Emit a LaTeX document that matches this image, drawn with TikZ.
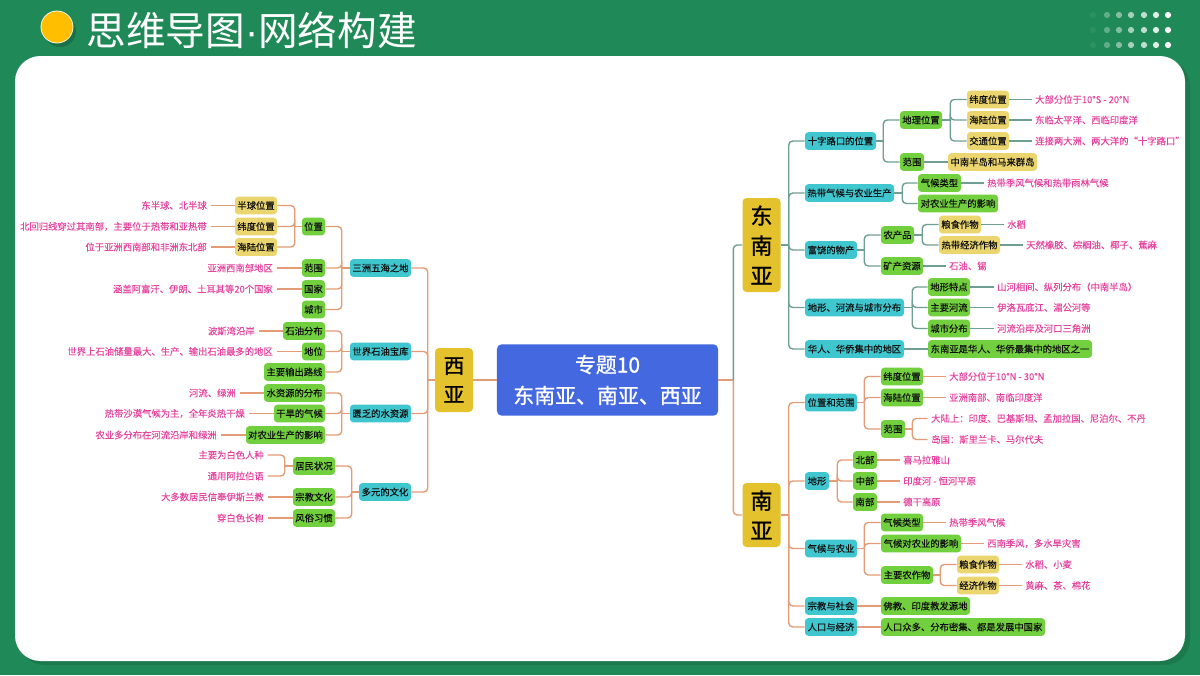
\documentclass[tikz,border=0pt]{standalone}
\usepackage{fontspec}
\setmainfont{Noto Sans CJK SC}
\newfontfamily\nodefont[FakeBold=0.22]{Noto Sans CJK SC}
\newfontfamily\pinkfont[FakeBold=0.08]{Noto Sans CJK SC}
\newfontfamily\headfont[FakeBold=1.0]{Noto Sans CJK SC}
\newfontfamily\dotfont{Liberation Sans}
\usetikzlibrary{shadows}
\definecolor{bgG}{HTML}{1F8A57}
\definecolor{tealC}{HTML}{3FC6CF}
\definecolor{grnC}{HTML}{72D03E}
\definecolor{ylwC}{HTML}{EBD56F}
\definecolor{bigY}{HTML}{E3C22E}
\definecolor{bluC}{HTML}{4468E0}
\definecolor{pnk}{HTML}{E6449E}
\definecolor{orgL}{HTML}{E39C76}
\definecolor{gryL}{HTML}{6F9F92}
\definecolor{inkC}{HTML}{101010}
\tikzset{
  basebox/.style={rounded corners=2.4pt,inner sep=0pt,minimum height=13.2pt,font=\nodefont\fontsize{7.0}{8}\selectfont,text=inkC,align=center},
  tealbox/.style={basebox,fill=tealC},
  grnbox/.style={basebox,fill=grnC},
  ylwbox/.style={basebox,fill=ylwC},
  bigbox/.style={rounded corners=3pt,fill=bigY,inner sep=0pt,text=black,align=center},
  pktext/.style={inner ysep=0pt,inner xsep=2.6pt,font=\pinkfont\fontsize{7.0}{8}\selectfont,text=pnk},
  orgline/.style={draw=orgL,line width=1.05pt},
  gryline/.style={draw=gryL,line width=1.05pt}
}
\newcommand\bx[6]{\node[#2,minimum width={(#4-#3)*0.75pt}] (#1) at ({(#3+#4)/2},#5) {#6};}
\newcommand\pkl[4]{\node[pktext,anchor=east] (#1) at (#2+3.5,#3) {#4};}
\newcommand\pkr[4]{\node[pktext,anchor=west] (#1) at (#2-3.5,#3) {#4};}
% right-going tree: style, parent, stub, children
\newcommand\rtree[4]{\draw[#1] (#2.east) -- ++(#3,0) coordinate (tk);
  \foreach \kid in {#4}{\draw[#1,rounded corners=3pt] (tk) |- (\kid.west);}}
\newcommand\ltree[4]{\draw[#1] (#2.west) -- ++(-#3,0) coordinate (tk);
  \foreach \kid in {#4}{\draw[#1,rounded corners=3pt] (tk) |- (\kid.east);}}
\newcommand\lnk[3]{\draw[#1] (#2) -- (#3);}
\begin{document}
\begin{tikzpicture}[x=0.75pt,y=-0.75pt]
\useasboundingbox (0,0) rectangle (1200,675);
\fill[bgG] (0,0) rectangle (1200,675);
\fill[black,opacity=.12] (19,60) [rounded corners=19pt] rectangle (1190,665);
\fill[white,rounded corners=19pt] (15,56) rectangle (1185,661);
% header
\fill[black,opacity=.18] (60,31) circle (16);
\node[circle,fill=white,minimum size=24.6pt,inner sep=0pt] (dotW) at (57,27) {};
\node[circle,fill=orange!50!yellow,minimum size=23.4pt,inner sep=0pt] (dotO) at (57,27) {};
\node[anchor=west,inner sep=0pt,text=white,font=\fontsize{29.7}{34}\selectfont] (title) at (86.5,30) {思维导图{\dotfont ·}网络构建};
\foreach \yy in {15,30,45}{
  \foreach \xx/\op in {1093/.06,1107/.3,1119/.45,1131/.6,1144/.72,1156/.86,1168/1}{
    \fill[white,opacity=\op] (\xx,\yy) circle (3.1);
  }
}
% centre
\node[fill=bluC,rounded corners=3.5pt,inner sep=0pt,minimum width=165.8pt,minimum height=53.6pt,text=white,align=center,font=\headfont\fontsize{15.7}{23.2}\selectfont] (ctr) at (607.5,380) {专题10\\东南亚、南亚、西亚};
\node[bigbox,minimum width=28.5pt,minimum height=48pt,font=\headfont\fontsize{15.5}{21.7}\selectfont] (xy) at (454,380) {西\\亚};
\node[bigbox,minimum width=28.5pt,minimum height=70.5pt,font=\headfont\fontsize{16.5}{22.5}\selectfont] (dny) at (761.5,245) {东\\南\\亚};
\node[bigbox,minimum width=28.5pt,minimum height=48pt,font=\headfont\fontsize{16.5}{22.5}\selectfont] (ny) at (761.5,515) {南\\亚};
% ===== West Asia
\bx{w1}{tealbox}{350}{411}{268}{三洲五海之地}
\bx{w2}{tealbox}{350}{411}{351.5}{世界石油宝库}
\bx{w3}{tealbox}{350}{411}{413.5}{匮乏的水资源}
\bx{w4}{tealbox}{359}{411}{492}{多元的文化}
\bx{wa}{grnbox}{302}{325}{226.5}{位置}
\bx{wb}{grnbox}{302}{325}{268}{范围}
\bx{wc}{grnbox}{302}{325}{289}{国家}
\bx{wd}{grnbox}{302}{325}{309.5}{城市}
\bx{waa}{ylwbox}{235}{277}{205.5}{半球位置}
\bx{wab}{ylwbox}{235}{277}{226.5}{纬度位置}
\bx{wac}{ylwbox}{235}{277}{247}{海陆位置}
\bx{we}{grnbox}{283}{325}{331}{石油分布}
\bx{wf}{grnbox}{302}{325}{351.5}{地位}
\bx{wg}{grnbox}{264}{325}{372}{主要输出路线}
\bx{wh}{grnbox}{264}{325}{393}{水资源的分布}
\bx{wi}{grnbox}{274}{325}{413.5}{干旱的气候}
\bx{wj}{grnbox}{246}{325}{435}{对农业生产的影响}
\bx{wk}{grnbox}{293}{335}{466}{居民状况}
\bx{wl}{grnbox}{293}{335}{497}{宗教文化}
\bx{wm}{grnbox}{293}{335}{518}{风俗习惯}
\pkl{t1}{207}{205.5}{东半球、北半球}
\pkl{t2}{207}{226.5}{北回归线穿过其南部，主要位于热带和亚热带}
\pkl{t3}{207}{247}{位于亚洲西南部和非洲东北部}
\pkl{t4}{273}{268}{亚洲西南部地区}
\pkl{t5}{273}{289}{涵盖阿富汗、伊朗、土耳其等20个国家}
\pkl{t6}{255}{331}{波斯湾沿岸}
\pkl{t7}{273}{351.5}{世界上石油储量最大、生产、输出石油最多的地区}
\pkl{t8}{236}{393}{河流、绿洲}
\pkl{t9}{245}{413.5}{热带沙漠气候为主，全年炎热干燥}
\pkl{t10}{217}{435}{农业多分布在河流沿岸和绿洲}
\pkl{t11}{264}{455}{主要为白色人种}
\pkl{t12}{264}{476}{通用阿拉伯语}
\pkl{t13}{264}{497}{大多数居民信奉伊斯兰教}
\pkl{t14}{264}{518}{穿白色长袍}
\ltree{orgline}{xy}{7}{w1,w2,w3,w4}
\ltree{orgline}{w1}{8}{wa,wb,wc,wd}
\ltree{orgline}{wa}{7}{waa,wab,wac}
\ltree{orgline}{w2}{8}{we,wf,wg}
\ltree{orgline}{w3}{8}{wh,wi,wj}
\ltree{orgline}{w4}{7}{wk,wl,wm}
\ltree{orgline}{wk}{8}{t11,t12}
\lnk{orgline}{waa.west}{t1.east}
\lnk{orgline}{wab.west}{t2.east}
\lnk{orgline}{wac.west}{t3.east}
\lnk{orgline}{wb.west}{t4.east}
\lnk{orgline}{wc.west}{t5.east}
\lnk{orgline}{we.west}{t6.east}
\lnk{orgline}{wf.west}{t7.east}
\lnk{orgline}{wh.west}{t8.east}
\lnk{orgline}{wi.west}{t9.east}
\lnk{orgline}{wj.west}{t10.east}
\lnk{orgline}{wl.west}{t13.east}
\lnk{orgline}{wm.west}{t14.east}
\lnk{orgline}{ctr.west}{xy.east}
% ===== Southeast Asia
\bx{e1}{tealbox}{805}{876}{141}{十字路口的位置}
\bx{e2}{tealbox}{805}{894}{193}{热带气候与农业生产}
\bx{e3}{tealbox}{805}{857}{250}{富饶的物产}
\bx{e4}{tealbox}{805}{904}{307.5}{地形、河流与城市分布}
\bx{e5}{tealbox}{805}{904}{349}{华人、华侨集中的地区}
\bx{ea}{grnbox}{900}{942}{120}{地理位置}
\bx{eb}{grnbox}{900}{924}{162}{范围}
\bx{eaa}{ylwbox}{967}{1009}{99.5}{纬度位置}
\bx{eab}{ylwbox}{967}{1009}{120}{海陆位置}
\bx{eac}{ylwbox}{967}{1009}{141}{交通位置}
\bx{eba}{ylwbox}{948}{1037}{162}{中南半岛和马来群岛}
\bx{ec}{grnbox}{918}{961}{183}{气候类型}
\bx{ed}{grnbox}{918}{998}{203.5}{对农业生产的影响}
\bx{ee}{grnbox}{881}{914}{235}{农产品}
\bx{ef}{grnbox}{881}{923}{266}{矿产资源}
\bx{eea}{ylwbox}{939}{981}{224.5}{粮食作物}
\bx{eeb}{ylwbox}{939}{1000}{245}{热带经济作物}
\bx{eg}{grnbox}{928}{970}{287}{地形特点}
\bx{eh}{grnbox}{928}{970}{307.5}{主要河流}
\bx{ei}{grnbox}{928}{970}{328.5}{城市分布}
\bx{ej}{grnbox}{928}{1092}{349}{东南亚是华人、华侨最集中的地区之一}
\pkr{u1}{1035}{99.5}{大部分位于10°S - 20°N}
\pkr{u2}{1035}{120}{东临太平洋、西临印度洋}
\pkr{u3}{1035}{141}{连接两大洲、两大洋的“十字路口”}
\pkr{u4}{987}{183}{热带季风气候和热带雨林气候}
\pkr{u5}{1007}{224.5}{水稻}
\pkr{u6}{1026}{245}{天然橡胶、棕榈油、椰子、蕉麻}
\pkr{u7}{949}{266}{石油、锡}
\pkr{u8}{997}{287}{山河相间、纵列分布（中南半岛）}
\pkr{u9}{997}{307.5}{伊洛瓦底江、湄公河等}
\pkr{u10}{997}{328.5}{河流沿岸及河口三角洲}
\rtree{gryline}{dny}{8}{e1,e2,e3,e4,e5}
\rtree{gryline}{e1}{7}{ea,eb}
\rtree{gryline}{ea}{8}{eaa,eab,eac}
\rtree{gryline}{e2}{8}{ec,ed}
\rtree{gryline}{e3}{7}{ee,ef}
\rtree{gryline}{ee}{8}{eea,eeb}
\rtree{gryline}{e4}{8}{eg,eh,ei}
\lnk{gryline}{eb.east}{eba.west}
\lnk{gryline}{e5.east}{ej.west}
\lnk{gryline}{eaa.east}{u1.west}
\lnk{gryline}{eab.east}{u2.west}
\lnk{gryline}{eac.east}{u3.west}
\lnk{gryline}{ec.east}{u4.west}
\lnk{gryline}{eea.east}{u5.west}
\lnk{gryline}{eeb.east}{u6.west}
\lnk{gryline}{ef.east}{u7.west}
\lnk{gryline}{eg.east}{u8.west}
\lnk{gryline}{eh.east}{u9.west}
\lnk{gryline}{ei.east}{u10.west}
% ===== South Asia
\bx{s1}{tealbox}{805}{857}{402.5}{位置和范围}
\bx{s2}{tealbox}{805}{829}{481}{地形}
\bx{s3}{tealbox}{805}{857}{548.5}{气候与农业}
\bx{s4}{tealbox}{805}{857}{606}{宗教与社会}
\bx{s5}{tealbox}{805}{857}{627}{人口与经济}
\bx{sa}{grnbox}{881}{923}{376.5}{纬度位置}
\bx{sb}{grnbox}{881}{923}{397.5}{海陆位置}
\bx{sc}{grnbox}{881}{905}{429}{范围}
\bx{sd}{grnbox}{853}{877}{460}{北部}
\bx{se}{grnbox}{853}{877}{481}{中部}
\bx{sf}{grnbox}{853}{877}{502}{南部}
\bx{sg}{grnbox}{881}{923}{522.5}{气候类型}
\bx{sh}{grnbox}{881}{961}{543.5}{气候对农业的影响}
\bx{si}{grnbox}{881}{933}{575}{主要农作物}
\bx{sia}{ylwbox}{957}{999}{564.5}{粮食作物}
\bx{sib}{ylwbox}{957}{999}{585.5}{经济作物}
\bx{sj}{grnbox}{881}{970}{606}{佛教、印度教发源地}
\bx{sk}{grnbox}{881}{1045}{627}{人口众多、分布密集、都是发展中国家}
\pkr{v1}{949}{376.5}{大部分位于10°N - 30°N}
\pkr{v2}{949}{397.5}{亚洲南部、南临印度洋}
\pkr{v3}{931}{418.5}{大陆上：印度、巴基斯坦、孟加拉国、尼泊尔、不丹}
\pkr{v4}{931}{439.5}{岛国：斯里兰卡、马尔代夫}
\pkr{v5}{903}{460}{喜马拉雅山}
\pkr{v6}{903}{481}{印度河 - 恒河平原}
\pkr{v7}{903}{502}{德干高原}
\pkr{v8}{949}{522.5}{热带季风气候}
\pkr{v9}{987}{543.5}{西南季风，多水旱灾害}
\pkr{v10}{1025}{564.5}{水稻、小麦}
\pkr{v11}{1025}{585.5}{黄麻、茶、棉花}
\rtree{orgline}{ny}{8}{s1,s2,s3,s4,s5}
\rtree{orgline}{s1}{7}{sa,sb,sc}
\rtree{orgline}{sc}{7}{v3,v4}
\rtree{orgline}{s2}{8}{sd,se,sf}
\rtree{orgline}{s3}{7}{sg,sh,si}
\rtree{orgline}{si}{7}{sia,sib}
\lnk{orgline}{s4.east}{sj.west}
\lnk{orgline}{s5.east}{sk.west}
\lnk{orgline}{sa.east}{v1.west}
\lnk{orgline}{sb.east}{v2.west}
\lnk{orgline}{sd.east}{v5.west}
\lnk{orgline}{se.east}{v6.west}
\lnk{orgline}{sf.east}{v7.west}
\lnk{orgline}{sg.east}{v8.west}
\lnk{orgline}{sh.east}{v9.west}
\lnk{orgline}{sia.east}{v10.west}
\lnk{orgline}{sib.east}{v11.west}
% centre to regions
\draw[orgline] (ctr.east) -- ++(15,0) coordinate (tkc);
\draw[gryline,rounded corners=3pt] (tkc) |- (dny.west);
\draw[orgline,rounded corners=3pt] (tkc) |- (ny.west);
\end{tikzpicture}
\end{document}
